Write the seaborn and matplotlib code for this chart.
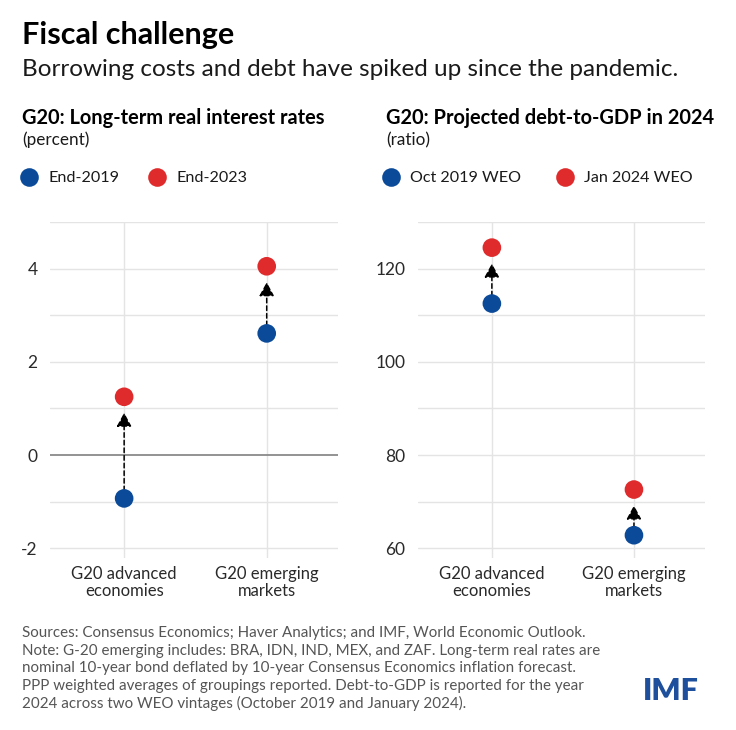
import matplotlib
matplotlib.use("Agg")
import matplotlib.pyplot as plt
import seaborn as sns
import pandas as pd

# ---------------- data ----------------
groups = ["G20 advanced\neconomies", "G20 emerging\nmarkets"]
rates_2019 = [-0.93, 2.61]
rates_2023 = [1.25, 4.05]
debt_oct2019 = [112.5, 62.8]
debt_jan2024 = [124.5, 72.6]
rate_series = ["End-2019", "End-2023"]
debt_series = ["Oct 2019 WEO", "Jan 2024 WEO"]

BLUE = "#0B4A99"
RED = "#DF2B2B"
GRID = "#e4e4e4"
TXT = "#1a1a1a"
GRAY = "#555555"

sns.set_theme(style="white")
plt.rcParams["font.family"] = ["Lato", "DejaVu Sans"]

fig = plt.figure(figsize=(7.36, 7.30), dpi=100)
W, H = 736, 730


def ax_rect(x0, x1, y0, y1):
    return [x0 / W, 1 - y1 / H, (x1 - x0) / W, (y1 - y0) / H]


ax1 = fig.add_axes(ax_rect(50, 338, 222, 557.6))
ax2 = fig.add_axes(ax_rect(418, 705, 222, 557.6))


def draw_panel(ax, v0, v1, names, ylim, major, minor, zero_line, leg_x, colspace):
    df = pd.DataFrame({
        "group": groups * 2,
        "value": list(v0) + list(v1),
        "series": [names[0]] * len(groups) + [names[1]] * len(groups),
    })
    sns.scatterplot(data=df, x="group", y="value", hue="series",
                    palette=[BLUE, RED], s=180, linewidth=0, ax=ax, zorder=4)
    ax.set_xlim(-0.52, 1.5)
    ax.set_ylim(*ylim)
    for y in minor:
        ax.axhline(y, color=GRID, lw=1.0, zorder=0)
    for i in range(len(groups)):
        ax.axvline(i, color=GRID, lw=1.0, zorder=0)
    if zero_line is not None:
        ax.axhline(zero_line, color="#8a8a8a", lw=1.3, zorder=1)
    for i, (a, b) in enumerate(zip(v0, v1)):
        ax.annotate("", xy=(i, b), xytext=(i, a),
                    arrowprops=dict(arrowstyle="-|>,head_length=0.7,head_width=0.38",
                                    linestyle=(0, (3, 2)), lw=1.1, color="black",
                                    shrinkA=0, shrinkB=11.5),
                    zorder=3)
    ax.set_yticks(major)
    ax.set_yticklabels([str(int(m)) for m in major])
    ax.tick_params(axis="y", length=0, pad=9, labelsize=12.5, labelcolor="#2a2a2a")
    ax.tick_params(axis="x", length=0, pad=6, labelsize=12, labelcolor="#2a2a2a")
    for lab in ax.get_xticklabels():
        lab.set_linespacing(1.1)
    ax.set_xlabel("")
    ax.set_ylabel("")
    for s in ax.spines.values():
        s.set_visible(False)
    sns.move_legend(ax, "center left", bbox_to_anchor=(leg_x, 1.131), ncol=2,
                    title=None, frameon=False, borderpad=0, borderaxespad=0,
                    handlelength=1.0, handletextpad=0.7, columnspacing=colspace,
                    fontsize=11.6)
    for t in ax.get_legend().get_texts():
        t.set_color(TXT)


draw_panel(ax1, rates_2019, rates_2023, rate_series, (-2.2, 5.0),
           [-2, 0, 2, 4], [-2, -1, 1, 2, 3, 4, 5], 0, -0.1, 1.85)
draw_panel(ax2, debt_oct2019, debt_jan2024, debt_series, (58, 130),
           [60, 80, 100, 120], [60, 70, 80, 90, 100, 110, 120, 130], None, -0.122, 2.2)

# ---------------- text ----------------
fig.text(22 / W, 1 - 35 / H, "Fiscal challenge", fontsize=22, fontweight="bold",
         color="black", va="center", ha="left")
fig.text(22 / W, 1 - 70 / H,
         "Borrowing costs and debt have spiked up since the pandemic.",
         fontsize=17.5, color=TXT, va="center", ha="left")
fig.text(22 / W, 1 - 118 / H, "G20: Long-term real interest rates", fontsize=14.4,
         fontweight="bold", color="black", va="center", ha="left")
fig.text(22 / W, 1 - 140 / H, "(percent)", fontsize=12.3, color=TXT, va="center", ha="left")
fig.text(386 / W, 1 - 118 / H, "G20: Projected debt-to-GDP in 2024", fontsize=14.4,
         fontweight="bold", color="black", va="center", ha="left")
fig.text(386 / W, 1 - 140 / H, "(ratio)", fontsize=12.3, color=TXT, va="center", ha="left")

note = ("Sources: Consensus Economics; Haver Analytics; and IMF, World Economic Outlook.\n"
        "Note: G-20 emerging includes: BRA, IDN, IND, MEX, and ZAF. Long-term real rates are\n"
        "nominal 10-year bond deflated by 10-year Consensus Economics inflation forecast.\n"
        "PPP weighted averages of groupings reported. Debt-to-GDP is reported for the year\n"
        "2024 across two WEO vintages (October 2019 and January 2024).")
fig.text(22 / W, 1 - 626 / H, note, fontsize=10.9, color=GRAY, va="top", ha="left",
         linespacing=1.32)
fig.text(699 / W, 1 - 691 / H, "IMF", fontsize=22, fontweight="heavy", color="#1D4F9C",
         va="center", ha="right")

fig.savefig("out.png", dpi=100)
